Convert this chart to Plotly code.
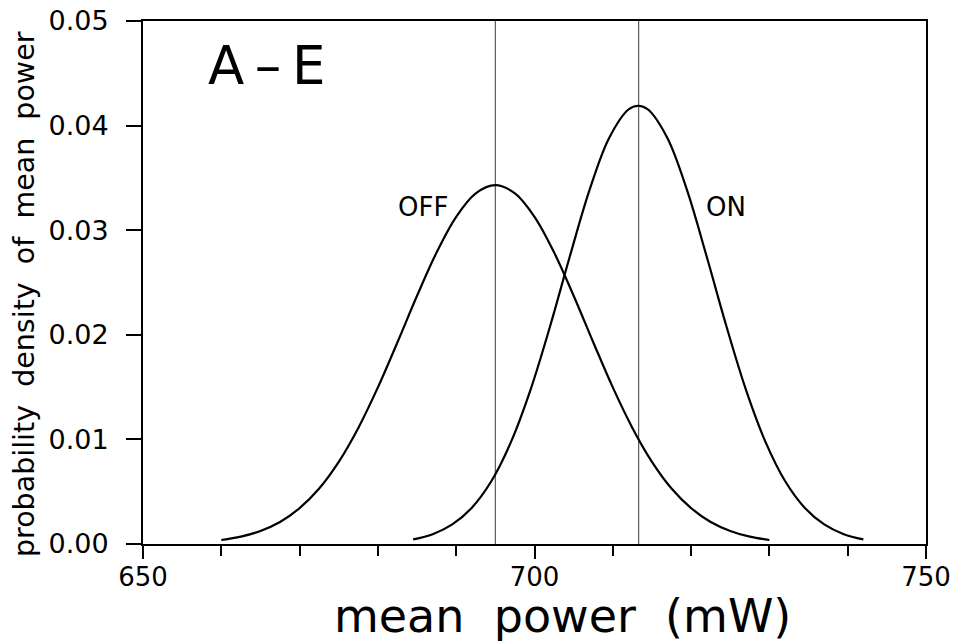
import plotly.graph_objects as go

# OFF curve
off_x = [660, 662.5, 665, 667.5, 670, 672.5, 675, 677.5, 680, 682.5, 685, 687.5, 690, 692.5,
         695, 697.5, 700, 702.5, 705, 707.5, 710, 712.5, 715, 717.5, 720, 722.5, 725, 727.5, 730]
off_y = [0.00038, 0.00070, 0.00125, 0.00211, 0.00343, 0.00531, 0.00786, 0.01110, 0.01497,
         0.01929, 0.02373, 0.02788, 0.03128, 0.03352, 0.03430, 0.03352, 0.03128, 0.02788,
         0.02373, 0.01929, 0.01497, 0.01110, 0.00786, 0.00531, 0.00343, 0.00211, 0.00125,
         0.00070, 0.00038]

# ON curve
on_x = [684.5, 687, 689.5, 692, 694.5, 697, 699.5, 702, 704.5, 707, 709.5, 712, 713.25,
        714.5, 717, 719.5, 722, 724.5, 727, 729.5, 732, 734.5, 737, 739.5, 742]
on_y = [0.00044, 0.00094, 0.00187, 0.00347, 0.00602, 0.00976, 0.01476, 0.02084, 0.02746,
        0.03378, 0.03877, 0.04154, 0.04190, 0.04154, 0.03877, 0.03378, 0.02746, 0.02084,
        0.01476, 0.00976, 0.00602, 0.00347, 0.00187, 0.00094, 0.00044]

# mean markers (vertical lines)
mean_lines = [695.0, 713.3]

x_range = [650, 750]
y_range = [0, 0.05]
x_ticks = [650, 700, 750]
y_ticks = [0.00, 0.01, 0.02, 0.03, 0.04, 0.05]
y_ticktext = ["0.00", "0.01", "0.02", "0.03", "0.04", "0.05"]

FONT = "DejaVu Sans"

# page body adds an 8px offset; figure is sized to fit the window
W, H = 950, 633
L, R, T, B = 135, 32, 13, 97
PW, PH = W - L - R, H - T - B


def px_x(p):  # window pixel -> paper x
    return (p - 8 - L) / PW


def px_y(p):  # window pixel -> paper y
    return (H - B - (p - 8)) / PH


fig = go.Figure()
for xv in mean_lines:
    fig.add_trace(go.Scatter(x=[xv, xv], y=y_range, mode="lines",
                             line=dict(color="#5a5a5a", width=1.2), hoverinfo="skip",
                             showlegend=False))
fig.add_trace(go.Scatter(x=off_x, y=off_y, mode="lines",
                         line=dict(color="black", width=2.2, shape="spline"),
                         showlegend=False, name="OFF"))
fig.add_trace(go.Scatter(x=on_x, y=on_y, mode="lines",
                         line=dict(color="black", width=2.2, shape="spline"),
                         showlegend=False, name="ON"))

fig.add_annotation(x=685.7, y=0.0322, text="OFF", showarrow=False,
                   font=dict(family=FONT, size=26, color="black"), xanchor="center", yanchor="middle")
fig.add_annotation(x=724.5, y=0.0322, text="ON", showarrow=False,
                   font=dict(family=FONT, size=26, color="black"), xanchor="center", yanchor="middle")
fig.add_annotation(x=665.8, y=0.0457, text="A\u2009\u2013\u2009E", showarrow=False,
                   font=dict(family=FONT, size=53, color="black"), xanchor="center", yanchor="middle")

# axis titles
fig.add_annotation(xref="paper", yref="paper", x=px_x(562), y=px_y(616),
                   text="mean\u00a0\u00a0power\u00a0\u00a0(mW)", showarrow=False,
                   font=dict(family=FONT, size=46, color="black"), xanchor="center", yanchor="middle")
fig.add_annotation(xref="paper", yref="paper", x=px_x(24), y=px_y(294),
                   text="probability\u00a0\u00a0density\u00a0\u00a0of\u00a0\u00a0mean\u00a0\u00a0power",
                   textangle=-90, showarrow=False,
                   font=dict(family=FONT, size=28.5, color="black"), xanchor="center", yanchor="middle")

fig.update_layout(
    width=W, height=H,
    margin=dict(l=L, r=R, t=T, b=B, autoexpand=False),
    paper_bgcolor="white", plot_bgcolor="white",
    font=dict(family=FONT, color="black"),
    showlegend=False,
)
fig.update_xaxes(range=x_range, tickvals=x_ticks, ticks="outside", ticklen=13, tickwidth=2,
                 tickcolor="black", showline=True, linecolor="black", linewidth=2, mirror=True,
                 showgrid=False, zeroline=False, tickfont=dict(family=FONT, size=26),
                 ticklabelstandoff=-4, automargin=False, ticklabeloverflow="allow",
                 minor=dict(dtick=10, tick0=650, ticks="outside", ticklen=10, tickwidth=2,
                            tickcolor="black", showgrid=False))
fig.update_yaxes(range=[y_range[0] - 1e-7, y_range[1] + 1e-7], tickvals=y_ticks, ticktext=y_ticktext,
                 ticks="outside", ticklen=15,
                 tickwidth=2, tickcolor="black", showline=True, linecolor="black", linewidth=2,
                 mirror=True, showgrid=False, zeroline=False, tickfont=dict(family=FONT, size=27),
                 ticklabelstandoff=12, automargin=False, ticklabeloverflow="allow")

fig.write_html("out.html")
